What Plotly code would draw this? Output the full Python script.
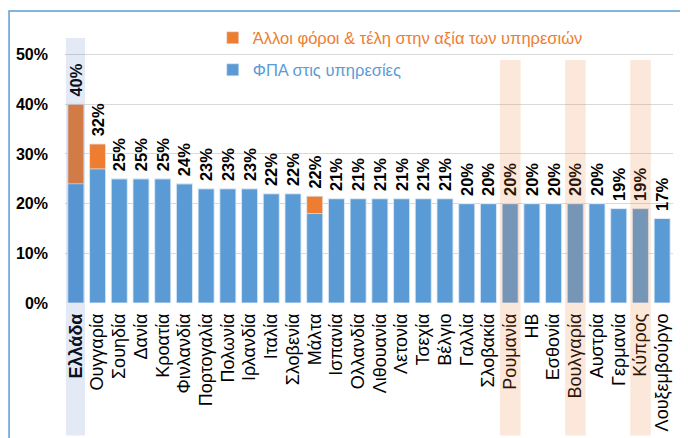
import plotly.graph_objects as go

countries = ["Ελλάδα", "Ουγγαρία", "Σουηδία", "Δανία", "Κροατία", "Φινλανδία", "Πορτογαλία",
             "Πολωνία", "Ιρλανδία", "Ιταλία", "Σλοβενία", "Μάλτα", "Ισπανία", "Ολλανδία",
             "Λιθουανία", "Λετονία", "Τσεχία", "Βέλγιο", "Γαλλία", "Σλοβακία", "Ρουμανία",
             "ΗΒ", "Εσθονία", "Βουλγαρία", "Αυστρία", "Γερμανία", "Κύπρος", "Λουξεμβούργο"]
vat = [24, 27, 25, 25, 25, 24, 23, 23, 23, 22, 22, 18, 21, 21, 21, 21, 21, 21,
       20, 20, 20, 20, 20, 20, 20, 19, 19, 17]
other = [16, 5, 0, 0, 0, 0, 0, 0, 0, 0, 0, 3.5, 0, 0, 0, 0, 0, 0,
         0, 0, 0, 0, 0, 0, 0, 0, 0, 0]
labels = ["40%", "32%", "25%", "25%", "25%", "24%", "23%", "23%", "23%", "22%", "22%", "22%",
          "21%", "21%", "21%", "21%", "21%", "21%", "20%", "20%", "20%", "20%", "20%", "20%",
          "20%", "19%", "19%", "17%"]
highlight_blue = ["Ελλάδα"]
highlight_orange = ["Ρουμανία", "Βουλγαρία", "Κύπρος"]
name_other = "Άλλοι φόροι & τέλη στην αξία των υπηρεσιών"
name_vat = "ΦΠΑ στις υπηρεσίες"

BLUE = "#5b9bd5"
ORANGE = "#ed7d31"
FONT = "Liberation Sans, Arial, sans-serif"

vat_f = [v / 100 for v in vat]
other_f = [o / 100 for o in other]
total_f = [(v + o) / 100 for v, o in zip(vat, other)]
ticktext = [f"<b>{c}</b>" if c in highlight_blue else c for c in countries]
label_text = ["\u00a0" + t for t in labels]

fig = go.Figure()
fig.add_trace(go.Bar(x=countries, y=vat_f, name=name_vat, marker_color=BLUE,
                     legend="legend2", hoverinfo="skip"))
fig.add_trace(go.Bar(x=countries, y=other_f, base=vat_f, name=name_other, marker_color=ORANGE,
                     legend="legend", hoverinfo="skip"))
fig.add_trace(go.Bar(x=countries, y=total_f, marker_color="rgba(0,0,0,0)", showlegend=False,
                     text=label_text, textposition="outside", textangle=-90, constraintext="none",
                     cliponaxis=False, hoverinfo="skip",
                     outsidetextfont=dict(family=FONT, size=16.5, color="black", weight="bold")))

shapes = []
for c in highlight_blue:
    i = countries.index(c)
    shapes.append(dict(type="rect", xref="x", yref="paper", x0=i - 0.46, x1=i + 0.42,
                       y0=-0.5, y1=1.0, fillcolor="rgba(70,114,196,0.15)", line_width=0,
                       layer="above"))
for c in highlight_orange:
    i = countries.index(c)
    shapes.append(dict(type="rect", xref="x", yref="paper", x0=i - 0.47, x1=i + 0.48,
                       y0=-0.5, y1=0.917, fillcolor="rgba(237,125,49,0.18)", line_width=0,
                       layer="above"))
shapes.append(dict(type="rect", xref="paper", yref="paper", x0=-0.092, x1=1.06,
                   y0=-0.6, y1=1.102, line=dict(color=BLUE, width=1.5),
                   fillcolor="rgba(0,0,0,0)", layer="below"))

# the page body adds an 8px offset; the figure is sized so the plot lands where the reference has it
fig.update_layout(
    width=680, height=430,
    margin=dict(l=57, r=15, t=30, b=135, autoexpand=False),
    paper_bgcolor="white", plot_bgcolor="white",
    barmode="overlay", bargap=0.26,
    shapes=shapes,
    showlegend=True,
    legend=dict(x=0.243, y=1.0, xanchor="left", yanchor="middle", bgcolor="rgba(0,0,0,0)",
                font=dict(family=FONT, size=16.5, color=ORANGE), itemclick=False),
    legend2=dict(x=0.243, y=0.879, xanchor="left", yanchor="middle", bgcolor="rgba(0,0,0,0)",
                 font=dict(family=FONT, size=16.5, color=BLUE), itemclick=False),
    xaxis=dict(type="category", categoryorder="array", categoryarray=countries,
               tickmode="array", tickvals=countries, ticktext=ticktext,
               tickangle=-90, tickfont=dict(family=FONT, size=18, color="black"),
               showgrid=False, showline=False, ticks="", ticklabelstandoff=6,
               automargin=False),
    yaxis=dict(range=[0, 0.5332], tickvals=[0, 0.1, 0.2, 0.3, 0.4, 0.5], tickformat=".0%",
               tickfont=dict(family=FONT, size=16, color="black", weight="bold"),
               showgrid=True, gridcolor="#d9d9d9", gridwidth=1, zeroline=False,
               showline=False, ticks="", ticklabelstandoff=16, automargin=False),
)

fig.write_html("out.html")
